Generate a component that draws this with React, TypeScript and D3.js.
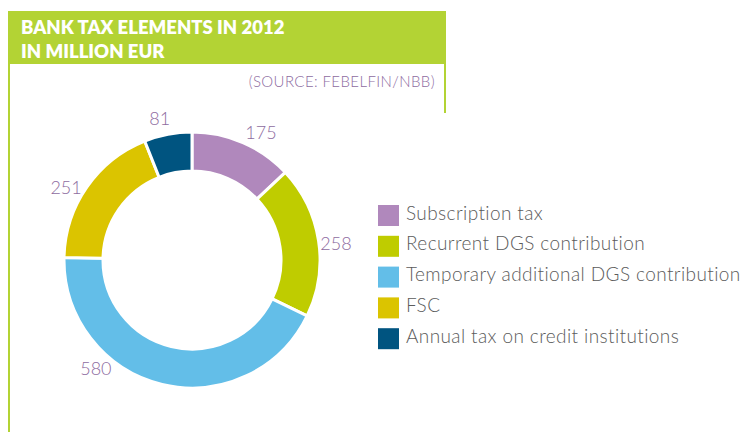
import React from "react";
import * as d3 from "d3";

const categories = [
  "Subscription tax",
  "Recurrent DGS contribution",
  "Temporary additional DGS contribution",
  "FSC",
  "Annual tax on credit institutions",
];
const values = [175, 258, 580, 251, 81];
const colors = ["#b088bc", "#bfcc00", "#63bee8", "#dbc400", "#005480"];
const titleLines = ["BANK TAX ELEMENTS IN 2012", "IN MILLION EUR"];
const sourceText = "(SOURCE: FEBELFIN/NBB)";

// label placement nudges (degrees, relative to slice middle)
const labelNudge = [5, 2, 28, -5, -2];

export default function App() {
  const W = 741;
  const H = 432;
  const cx = 192;
  const cy = 260;
  const outerR = 128;
  const innerR = 89;
  const labelR = 145;

  const pie = d3
    .pie<number>()
    .value((d) => d)
    .sort(null)
    .startAngle(0)
    .endAngle(2 * Math.PI);
  const arcs = pie(values);
  const arc = d3
    .arc<d3.PieArcDatum<number>>()
    .innerRadius(innerR)
    .outerRadius(outerR);

  const legendY = d3
    .scaleBand<number>()
    .domain(d3.range(categories.length))
    .range([205, 205 + 30.8 * categories.length]);

  const labelColor = "#8e6c9f";

  return (
    <svg
      width={W}
      height={H}
      style={{ position: "absolute", left: 0, top: 0, background: "#fff" }}
    >
      <rect x={8} y={11} width={438} height={53} fill="#b3d334" />
      <rect x={8} y={64} width={2} height={H - 64} fill="#b3d334" />
      <rect x={444} y={64} width={2} height={49} fill="#b3d334" />
      {titleLines.map((t, i) => (
        <text
          key={t}
          x={21}
          y={34 + i * 24}
          fill="#fff"
          fontFamily="Lato, 'Open Sans', sans-serif"
          fontWeight={800}
          fontSize={18.5}
        >
          {t}
        </text>
      ))}
      <text
        x={435}
        y={87}
        textAnchor="end"
        fill={labelColor}
        fontFamily="Lato, sans-serif"
        fontWeight={300}
        fontSize={15}
        letterSpacing={0.4}
      >
        {sourceText}
      </text>

      <g transform={`translate(${cx},${cy})`}>
        {arcs.map((a, i) => (
          <path
            key={i}
            d={arc(a) || ""}
            fill={colors[i]}
            stroke="#fff"
            strokeWidth={3}
          />
        ))}
        {arcs.map((a, i) => {
          const mid = (a.startAngle + a.endAngle) / 2 + (labelNudge[i] * Math.PI) / 180;
          const x = labelR * Math.sin(mid);
          const y = -labelR * Math.cos(mid);
          return (
            <text
              key={"l" + i}
              x={x}
              y={y}
              dy="0.35em"
              textAnchor="middle"
              fill={labelColor}
              fontFamily="Lato, sans-serif"
              fontWeight={300}
              fontSize={18}
            >
              {values[i]}
            </text>
          );
        })}
      </g>

      {categories.map((c, i) => {
        const y = legendY(i) as number;
        return (
          <g key={c}>
            <rect x={378} y={y} width={21} height={21} fill={colors[i]} />
            <text
              x={406}
              y={y + 14.5}
              fill="#5b5b5b"
              fontFamily="Lato, sans-serif"
              fontWeight={300}
              fontSize={19}
              letterSpacing={0.4}
            >
              {c}
            </text>
          </g>
        );
      })}
    </svg>
  );
}
